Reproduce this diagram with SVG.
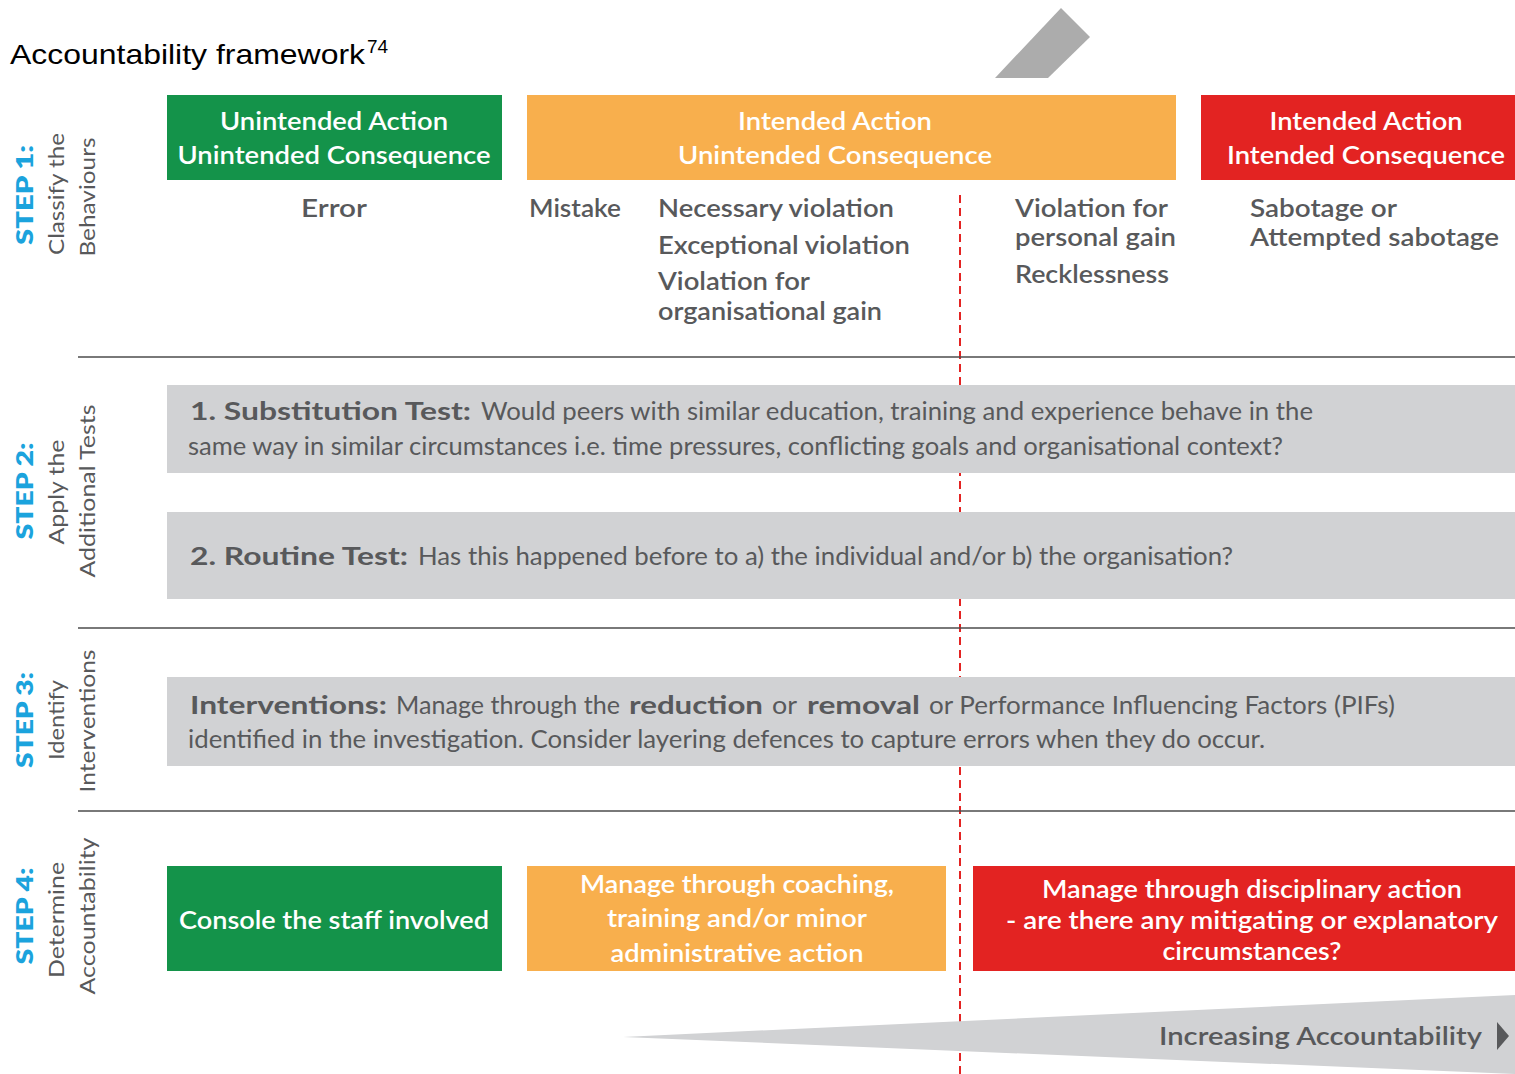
<svg xmlns="http://www.w3.org/2000/svg" width="1515" height="1074" viewBox="0 0 1515 1074">
<style>
.hdr{font-family:Lato,"Noto Sans",sans-serif;font-size:25px;fill:#fff;font-weight:600;text-anchor:middle}
.box4{font-family:Lato,"Noto Sans",sans-serif;font-size:25px;fill:#fff;font-weight:600;text-anchor:middle}
.beh{font-family:Lato,"Noto Sans",sans-serif;font-size:25px;fill:#58595b;font-weight:600}
.gt{font-family:Lato,"Noto Sans",sans-serif;font-size:25px;fill:#58595b}
.gb{font-weight:700}
.step{font-family:Lato,"Noto Sans",sans-serif;font-size:23px;fill:#1ba3dd;font-weight:800}
.sl{font-family:Lato,"Noto Sans",sans-serif;font-size:22px;fill:#58595b}
.rule{stroke:#4d4d4d;stroke-width:1.5}
</style>
<rect width="1515" height="1074" fill="#fff"/>
<text x="10" y="64" font-family="Liberation Sans,Arial,sans-serif" font-size="28" fill="#000" textLength="355" lengthAdjust="spacingAndGlyphs">Accountability framework</text>
<text x="367" y="53" font-family="Liberation Sans,Arial,sans-serif" font-size="19" fill="#000">74</text>
<polygon points="995,78 1061,8 1090,37 1048,78" fill="#acacac"/>

<g id="connectors">
<line x1="960" y1="195" x2="960" y2="1074" stroke="#e32322" stroke-width="2" stroke-dasharray="8,5"/>
</g>

<g id="step-labels">
<g id="step1-label">
<text class="step" transform="translate(33,195) rotate(-90)" text-anchor="middle" textLength="100" lengthAdjust="spacingAndGlyphs">STEP 1:</text>
<text class="sl" transform="translate(64,194) rotate(-90)" text-anchor="middle" textLength="122" lengthAdjust="spacingAndGlyphs">Classify the</text>
<text class="sl" transform="translate(95,197) rotate(-90)" text-anchor="middle" textLength="119" lengthAdjust="spacingAndGlyphs">Behaviours</text>
</g>
<g id="step2-label">
<text class="step" transform="translate(33,491) rotate(-90)" text-anchor="middle" textLength="97" lengthAdjust="spacingAndGlyphs">STEP 2:</text>
<text class="sl" transform="translate(64,492) rotate(-90)" text-anchor="middle" textLength="105" lengthAdjust="spacingAndGlyphs">Apply the</text>
<text class="sl" transform="translate(95,491) rotate(-90)" text-anchor="middle" textLength="173" lengthAdjust="spacingAndGlyphs">Additional Tests</text>
</g>
<g id="step3-label">
<text class="step" transform="translate(33,720) rotate(-90)" text-anchor="middle" textLength="96" lengthAdjust="spacingAndGlyphs">STEP 3:</text>
<text class="sl" transform="translate(64,720) rotate(-90)" text-anchor="middle" textLength="80" lengthAdjust="spacingAndGlyphs">Identify</text>
<text class="sl" transform="translate(95,721) rotate(-90)" text-anchor="middle" textLength="143" lengthAdjust="spacingAndGlyphs">Interventions</text>
</g>
<g id="step4-label">
<text class="step" transform="translate(33,916) rotate(-90)" text-anchor="middle" textLength="97" lengthAdjust="spacingAndGlyphs">STEP 4:</text>
<text class="sl" transform="translate(64,920) rotate(-90)" text-anchor="middle" textLength="116" lengthAdjust="spacingAndGlyphs">Determine</text>
<text class="sl" transform="translate(95,916) rotate(-90)" text-anchor="middle" textLength="157" lengthAdjust="spacingAndGlyphs">Accountability</text>
</g>
</g>

<g id="dividers">
<line class="rule" x1="78" y1="357" x2="1515" y2="357"/>
<line class="rule" x1="78" y1="628" x2="1515" y2="628"/>
<line class="rule" x1="78" y1="811" x2="1515" y2="811"/>
</g>

<g id="hdr-green">
<rect x="167" y="95" width="335" height="85" fill="#14934a"/>
<text class="hdr" x="334" y="130" textLength="228" lengthAdjust="spacingAndGlyphs">Unintended Action</text>
<text class="hdr" x="334" y="164" textLength="313" lengthAdjust="spacingAndGlyphs">Unintended Consequence</text>
</g>
<g id="hdr-orange">
<rect x="527" y="95" width="649" height="85" fill="#f8af4d"/>
<text class="hdr" x="835" y="130" textLength="194" lengthAdjust="spacingAndGlyphs">Intended Action</text>
<text class="hdr" x="835" y="164" textLength="314" lengthAdjust="spacingAndGlyphs">Unintended Consequence</text>
</g>
<g id="hdr-red">
<rect x="1201" y="95" width="314" height="85" fill="#e32322"/>
<text class="hdr" x="1366" y="130" textLength="193" lengthAdjust="spacingAndGlyphs">Intended Action</text>
<text class="hdr" x="1366" y="164" textLength="278" lengthAdjust="spacingAndGlyphs">Intended Consequence</text>
</g>

<g id="behaviours">
<text class="beh" x="301" y="217" textLength="66" lengthAdjust="spacingAndGlyphs">Error</text>
<text class="beh" x="529" y="217" textLength="92" lengthAdjust="spacingAndGlyphs">Mistake</text>
<text class="beh" x="658" y="217" textLength="236" lengthAdjust="spacingAndGlyphs">Necessary violation</text>
<text class="beh" x="658" y="254" textLength="252" lengthAdjust="spacingAndGlyphs">Exceptional violation</text>
<text class="beh" x="658" y="290" textLength="152" lengthAdjust="spacingAndGlyphs">Violation for</text>
<text class="beh" x="658" y="320" textLength="224" lengthAdjust="spacingAndGlyphs">organisational gain</text>
<text class="beh" x="1015" y="217" textLength="153" lengthAdjust="spacingAndGlyphs">Violation for</text>
<text class="beh" x="1015" y="246" textLength="161" lengthAdjust="spacingAndGlyphs">personal gain</text>
<text class="beh" x="1015" y="283" textLength="154" lengthAdjust="spacingAndGlyphs">Recklessness</text>
<text class="beh" x="1250" y="217" textLength="147" lengthAdjust="spacingAndGlyphs">Sabotage or</text>
<text class="beh" x="1250" y="246" textLength="249" lengthAdjust="spacingAndGlyphs">Attempted sabotage</text>
</g>

<g id="substitution-test">
<rect x="167" y="385" width="1348" height="88" fill="#d1d2d4"/>
<text class="gt" y="420"><tspan class="gb" x="190" textLength="281" lengthAdjust="spacingAndGlyphs">1. Substitution Test:</tspan><tspan x="481" textLength="832" lengthAdjust="spacingAndGlyphs">Would peers with similar education, training and experience behave in the</tspan></text>
<text class="gt" x="188" y="455" textLength="1095" lengthAdjust="spacingAndGlyphs">same way in similar circumstances i.e. time pressures, conflicting goals and organisational context?</text>
</g>
<g id="routine-test">
<rect x="167" y="512" width="1348" height="87" fill="#d1d2d4"/>
<text class="gt" y="565"><tspan class="gb" x="190" textLength="218" lengthAdjust="spacingAndGlyphs">2. Routine Test:</tspan><tspan x="418" textLength="815" lengthAdjust="spacingAndGlyphs">Has this happened before to a) the individual and/or b) the organisation?</tspan></text>
</g>
<g id="interventions">
<rect x="167" y="677" width="1348" height="89" fill="#d1d2d4"/>
<text class="gt" y="714"><tspan class="gb" x="190" textLength="197" lengthAdjust="spacingAndGlyphs">Interventions:</tspan><tspan x="396" textLength="224" lengthAdjust="spacingAndGlyphs">Manage through the</tspan><tspan class="gb" x="629" textLength="134" lengthAdjust="spacingAndGlyphs">reduction</tspan><tspan x="772" textLength="25" lengthAdjust="spacingAndGlyphs">or</tspan><tspan class="gb" x="807" textLength="113" lengthAdjust="spacingAndGlyphs">removal</tspan><tspan x="929" textLength="466" lengthAdjust="spacingAndGlyphs">or Performance Influencing Factors (PIFs)</tspan></text>
<text class="gt" x="188" y="748" textLength="1077" lengthAdjust="spacingAndGlyphs">identified in the investigation. Consider layering defences to capture errors when they do occur.</text>
</g>

<g id="acc-green">
<rect x="167" y="866" width="335" height="105" fill="#14934a"/>
<text class="box4" x="334" y="929" textLength="310" lengthAdjust="spacingAndGlyphs">Console the staff involved</text>
</g>
<g id="acc-orange">
<rect x="527" y="866" width="419" height="105" fill="#f8af4d"/>
<text class="box4" x="737" y="893" textLength="314" lengthAdjust="spacingAndGlyphs">Manage through coaching,</text>
<text class="box4" x="737" y="927" textLength="260" lengthAdjust="spacingAndGlyphs">training and/or minor</text>
<text class="box4" x="737" y="962" textLength="253" lengthAdjust="spacingAndGlyphs">administrative action</text>
</g>
<g id="acc-red">
<rect x="973" y="866" width="542" height="105" fill="#e32322"/>
<text class="box4" x="1252" y="898" textLength="420" lengthAdjust="spacingAndGlyphs">Manage through disciplinary action</text>
<text class="box4" x="1252" y="929" textLength="492" lengthAdjust="spacingAndGlyphs">- are there any mitigating or explanatory</text>
<text class="box4" x="1252" y="960" textLength="179" lengthAdjust="spacingAndGlyphs">circumstances?</text>
</g>

<g id="accountability-scale">
<polygon points="623,1037 1515,995 1515,1074" fill="#d1d2d4"/>
<text class="gt" x="1159" y="1045" font-weight="600" textLength="323" lengthAdjust="spacingAndGlyphs">Increasing Accountability</text>
<polygon points="1497,1022 1509,1036 1497,1050" fill="#58595b"/>
</g>
</svg>
